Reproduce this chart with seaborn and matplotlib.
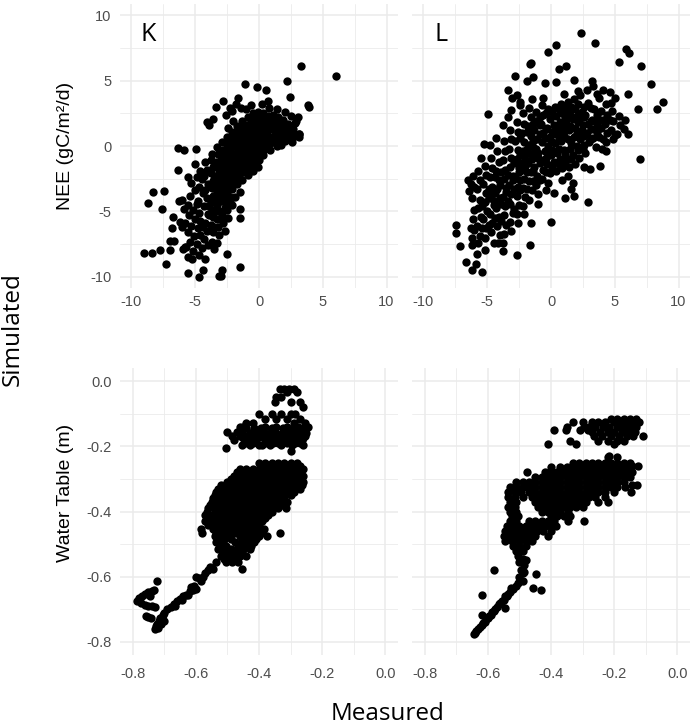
import matplotlib
matplotlib.use("Agg")
import matplotlib.pyplot as plt
from matplotlib.ticker import MultipleLocator
import seaborn as sns
import pandas as pd

# ---------------- data (measured, simulated) ----------------
K_NEE_CORE = [
    (-4.6, -1.9), (-4.5, -2.5), (-4.7, -3.1), (-4.4, -3.6), (-4.8, -4.2),
    (-4.2, -1.2), (-4.1, -1.8), (-4.3, -2.3), (-4.0, -2.9), (-4.2, -3.4), (-4.1, -4.0),
    (-4.3, -4.6), (-4.0, -5.2), (-4.2, -5.9), (-4.1, -6.5), (-4.3, -7.1), (-4.0, -7.6),
    (-3.7, -0.6), (-3.8, -1.1), (-3.6, -1.6), (-3.8, -2.1), (-3.6, -2.7), (-3.7, -3.2),
    (-3.6, -3.8), (-3.8, -4.3), (-3.7, -4.9), (-3.6, -5.4), (-3.8, -6.0), (-3.6, -6.6),
    (-3.7, -7.3), (-3.5, -7.9),
    (-3.3, -0.1), (-3.2, -0.6), (-3.4, -1.2), (-3.2, -1.7), (-3.3, -2.3), (-3.1, -2.8),
    (-3.3, -3.4), (-3.2, -3.9), (-3.3, -4.5), (-3.1, -5.0), (-3.3, -5.6), (-3.2, -6.2),
    (-3.1, -6.8), (-3.3, -7.4),
    (-2.9, 0.3), (-2.8, -0.3), (-3.0, -0.8), (-2.8, -1.4), (-2.9, -1.9), (-2.7, -2.5),
    (-2.9, -3.0), (-2.8, -3.6), (-2.9, -4.1), (-2.7, -4.7), (-2.9, -5.3), (-2.8, -5.9),
    (-2.7, -6.5),
    (-2.5, 0.7), (-2.4, 0.1), (-2.6, -0.4), (-2.4, -1.0), (-2.5, -1.5), (-2.3, -2.1),
    (-2.5, -2.6), (-2.4, -3.2), (-2.5, -3.7), (-2.3, -4.3), (-2.5, -4.9), (-2.4, -5.5),
    (-2.1, 1.1), (-2.0, 0.5), (-2.2, 0.0), (-2.0, -0.6), (-2.1, -1.1), (-1.9, -1.7),
    (-2.1, -2.2), (-2.0, -2.8), (-2.1, -3.3), (-1.9, -3.9), (-2.1, -4.5),
    (-1.7, 1.5), (-1.6, 0.9), (-1.8, 0.4), (-1.6, -0.2), (-1.7, -0.7), (-1.5, -1.3),
    (-1.7, -1.8), (-1.6, -2.4), (-1.7, -2.9), (-1.5, -3.5),
    (-1.3, 1.9), (-1.2, 1.3), (-1.4, 0.8), (-1.2, 0.2), (-1.3, -0.3), (-1.1, -0.9),
    (-1.3, -1.4), (-1.2, -2.0), (-1.3, -2.6),
    (-0.9, 2.2), (-0.8, 1.6), (-1.0, 1.1), (-0.8, 0.5), (-0.9, 0.0), (-0.7, -0.6),
    (-0.9, -1.1), (-0.8, -1.7), (-0.9, -2.2),
    (-0.5, 2.5), (-0.4, 1.9), (-0.6, 1.4), (-0.4, 0.8), (-0.5, 0.3), (-0.3, -0.3),
    (-0.5, -0.8), (-0.4, -1.4), (-0.5, -1.9),
    (-0.1, 2.6), (0.0, 2.1), (-0.2, 1.6), (0.0, 1.0), (-0.1, 0.5), (0.1, 0.0),
    (-0.1, -0.5), (0.0, -1.1), (-0.1, -1.6),
    (0.3, 2.5), (0.4, 1.9), (0.2, 1.4), (0.4, 0.9), (0.3, 0.3), (0.5, -0.2), (0.3, -0.7),
    (0.7, 2.3), (0.8, 1.8), (0.6, 1.3), (0.8, 0.7), (0.7, 0.2), (0.9, -0.3),
    (1.1, 2.4), (1.2, 1.8), (1.0, 1.3), (1.2, 0.8), (1.1, 0.3),
    (1.5, 2.2), (1.6, 1.6), (1.4, 1.1), (1.6, 0.6), (1.5, 0.2),
    (1.9, 2.0), (2.0, 1.4), (1.8, 0.9), (2.0, 0.4),
    (2.3, 1.7), (2.4, 1.1), (2.2, 0.6),
    (2.7, 1.3), (2.8, 0.8), (2.6, 0.3),
    (3.1, 0.9),
]
K_NEE_FILL = [
    (-2.7, -0.5), (-2.3, -0.1), (-1.9, 0.3), (-1.5, 0.6), (-1.1, 1.0), (-0.7, 1.3),
    (-0.3, 1.6), (0.1, 1.8), (0.5, 1.6), (0.9, 1.5), (1.3, 1.4), (1.7, 1.2), (2.1, 1.1),
    (2.5, 0.8), (-2.7, -1.6), (-2.3, -1.3), (-1.9, -0.9), (-1.5, -0.5), (-1.1, -0.1),
    (-0.7, 0.2), (-0.3, 0.5), (0.1, 0.7), (0.5, 0.4), (0.9, 0.2), (1.3, 0.5), (1.7, 0.1),
    (-3.1, -2.0), (-2.7, -3.3), (-2.3, -2.9), (-1.9, -2.5), (-1.5, -2.1), (-1.1, -1.7),
    (-0.7, -1.3), (-0.3, -0.9), (0.1, -0.4), (-3.5, -2.5), (-3.1, -3.6), (-2.7, -4.2),
    (-3.5, -4.3), (-2.3, -3.9),
    (-3.0, -1.1), (-2.6, -0.8), (-2.2, -0.5), (-1.8, -0.1), (-1.4, 0.2), (-1.0, 0.6),
    (-0.6, 0.9), (-0.2, 1.2), (0.2, 1.1), (0.6, 0.9), (1.0, 1.8), (1.4, 1.7), (1.8, 1.6),
    (2.2, 1.4), (2.6, 1.0), (-3.0, -2.4), (-2.6, -2.0), (-2.2, -1.7), (-1.8, -1.3),
    (-1.4, -1.0), (-1.0, -0.6), (-0.6, -0.2), (-0.2, 0.1), (0.2, -0.1), (0.6, -0.1),
    (1.0, 0.5), (1.4, 0.0), (-3.4, -2.9), (-3.0, -3.2), (-2.6, -3.0), (-2.2, -2.6),
    (-1.8, -2.1), (-1.4, -1.8), (-1.0, -1.3), (-0.6, -1.0), (-0.2, -0.6),
    (-0.2, 2.3), (0.2, 2.2), (0.6, 2.0), (1.0, 2.1), (-0.6, 2.0), (-1.0, 1.6), (-1.4, 1.4),
    (-1.8, 1.0), (-2.2, 0.6), (-2.6, 0.2),
    (-3.5, -3.8), (-3.0, -4.2), (-2.6, -4.5), (-3.4, -5.0), (-3.0, -5.6), (-3.5, -6.2),
    (-3.9, -5.3), (-3.9, -4.6),
]
K_NEE_LOWER = [
    (-5.6, -4.5), (-5.2, -4.9), (-4.9, -4.4), (-5.5, -5.3), (-5.0, -5.6), (-4.7, -5.1),
    (-5.8, -5.9), (-5.3, -6.1), (-4.8, -6.3), (-5.6, -6.6), (-5.1, -6.9), (-4.6, -6.8),
    (-5.4, -7.3), (-4.9, -7.5), (-4.5, -7.8), (-5.7, -7.7), (-5.2, -8.0), (-4.7, -8.3),
    (-6.0, -6.2), (-6.2, -5.8), (-5.9, -4.8), (-4.6, -5.7), (-4.4, -6.2),
    (-5.3, -2.8), (-5.0, -3.4), (-5.4, -3.8), (-4.9, -2.4),
]
K_NEE_SCATTER = [
    (3.31, 6.1), (6.05, 5.34), (-1.13, 4.73), (-0.14, 4.47), (0.53, 4.27), (2.2, 4.98),
    (2.46, 3.78), (0.74, 3.45), (-2.83, 3.45), (-1.66, 3.7), (-3.35, 3.0), (-2.3, 2.94),
    (-3.6, 2.05), (-4.05, 1.85), (-3.95, 1.6), (3.83, 3.1), (3.96, 3.0), (3.05, 2.18),
    (2.84, 1.72), (3.1, 0.95), (3.1, 0.65), (-6.38, -0.17), (-5.92, -0.32), (-4.95, -0.24),
    (-5.03, -1.39), (-6.33, -1.8), (-5.6, -2.36), (-8.29, -3.53), (-8.73, -4.34),
    (-7.43, -3.43), (-7.64, -4.8), (-6.75, -5.44), (-6.86, -6.25), (-6.96, -7.25),
    (-6.7, -7.25), (-6.96, -7.96), (-9.0, -8.17), (-8.42, -8.17), (-7.75, -7.96),
    (-7.33, -8.98), (-5.95, -7.86), (-5.55, -9.7), (-4.69, -10.0), (-4.38, -9.44),
    (-4.25, -8.65), (-3.15, -9.97), (-2.98, -9.97), (-2.9, -9.44), (-2.48, -8.27),
    (-1.5, -9.24), (-1.5, -4.85), (-1.5, -5.52), (-6.28, -4.24), (-6.07, -4.09),
    (-5.55, -8.47), (-5.24, -8.6), (-5.81, -7.71),
    (-2.6, 2.4), (-2.1, 2.7), (-1.8, 3.2), (-1.4, 2.9), (-1.0, 2.8), (-0.6, 3.1),
    (0.2, 3.2), (0.8, 2.9), (1.4, 2.8), (2.0, 2.6), (2.5, 2.3), (2.9, 1.9),
    (-2.0, 1.9), (-2.4, 1.4),
]

L_NEE_CORE = [
    (-6.1, -2.3), (-6.0, -3.1), (-6.2, -4.0), (-6.0, -4.9), (-6.1, -5.6), (-6.2, -7.0),
    (-5.7, -1.9), (-5.6, -2.6), (-5.8, -3.3), (-5.6, -4.1), (-5.7, -4.7), (-5.5, -5.4),
    (-5.8, -6.1), (-5.6, -6.9), (-5.7, -7.4),
    (-5.2, -1.5), (-5.1, -2.2), (-5.3, -2.9), (-5.1, -3.6), (-5.2, -4.3), (-5.0, -5.0),
    (-5.3, -5.6), (-5.1, -6.3), (-5.2, -7.0),
    (-4.7, -0.9), (-4.6, -1.7), (-4.8, -2.4), (-4.6, -3.1), (-4.7, -3.8), (-4.5, -4.5),
    (-4.8, -5.2), (-4.6, -5.9), (-4.7, -6.6),
    (-4.2, -0.4), (-4.1, -1.2), (-4.3, -1.9), (-4.1, -2.6), (-4.2, -3.3), (-4.0, -4.0),
    (-4.3, -4.7), (-4.1, -5.4), (-4.2, -6.1), (-4.0, -6.8),
    (-3.7, 0.4), (-3.6, -0.4), (-3.8, -1.1), (-3.6, -1.8), (-3.7, -2.5), (-3.5, -3.2),
    (-3.8, -3.9), (-3.6, -4.6), (-3.7, -5.3), (-3.5, -6.0), (-3.7, -6.7),
    (-3.2, 1.2), (-3.1, 0.5), (-3.3, -0.2), (-3.1, -0.9), (-3.2, -1.6), (-3.0, -2.3),
    (-3.3, -3.0), (-3.1, -3.7), (-3.2, -4.4), (-3.0, -5.1), (-3.2, -5.8), (-3.1, -6.5),
    (-2.7, 1.8), (-2.6, 1.1), (-2.8, 0.4), (-2.6, -0.3), (-2.7, -1.0), (-2.5, -1.7),
    (-2.8, -2.4), (-2.6, -3.1), (-2.7, -3.8), (-2.5, -4.5), (-2.7, -5.2), (-2.6, -5.9),
    (-2.2, 2.5), (-2.1, 1.7), (-2.3, 1.0), (-2.1, 0.3), (-2.2, -0.4), (-2.0, -1.1),
    (-2.3, -1.8), (-2.1, -2.5), (-2.2, -3.2), (-2.0, -3.9), (-2.2, -4.6), (-2.1, -5.2),
    (-1.7, 2.9), (-1.6, 2.2), (-1.8, 1.5), (-1.6, 0.8), (-1.7, 0.1), (-1.5, -0.6),
    (-1.8, -1.3), (-1.6, -2.0), (-1.7, -2.7), (-1.5, -3.4), (-1.7, -4.1),
    (-1.2, 2.6), (-1.1, 1.9), (-1.3, 1.2), (-1.1, 0.5), (-1.2, -0.2), (-1.0, -0.9),
    (-1.3, -1.6), (-1.1, -2.3), (-1.2, -3.0), (-1.0, -3.7),
    (-0.7, 3.1), (-0.6, 2.4), (-0.8, 1.7), (-0.6, 1.0), (-0.7, 0.3), (-0.5, -0.4),
    (-0.8, -1.1), (-0.6, -1.8), (-0.7, -2.5),
    (-0.2, 2.8), (-0.1, 2.1), (-0.3, 1.4), (-0.1, 0.7), (-0.2, 0.0), (0.0, -0.7),
    (-0.3, -1.4), (-0.1, -2.1), (-0.2, -2.8),
    (0.3, 3.0), (0.4, 2.3), (0.2, 1.6), (0.4, 0.9), (0.3, 0.2), (0.5, -0.5), (0.2, -1.2),
    (0.4, -1.9),
    (0.8, 3.2), (0.9, 2.5), (0.7, 1.8), (0.9, 1.1), (0.8, 0.4), (1.0, -0.3), (0.7, -1.0),
    (0.9, -1.7),
    (1.3, 3.4), (1.4, 2.6), (1.2, 1.9), (1.4, 1.2), (1.3, 0.5), (1.5, -0.2), (1.2, -0.9),
    (1.4, -1.6), (1.3, -2.3),
    (1.8, 3.6), (1.9, 2.8), (1.7, 2.1), (1.9, 1.4), (1.8, 0.7), (2.0, 0.0), (1.7, -0.7),
    (1.9, -1.4),
    (2.3, 3.9), (2.4, 2.6), (2.2, 1.9), (2.4, 1.2), (2.3, 0.5), (2.5, -0.2), (2.2, -0.9),
    (2.8, 4.3), (2.9, 3.3), (2.7, 2.4), (2.9, 1.7), (2.8, 1.0), (3.0, 0.3), (2.7, -0.5),
    (3.3, 4.6), (3.4, 2.8), (3.2, 2.0), (3.4, 1.3), (3.3, 0.6), (3.5, -0.1),
    (3.8, 3.7), (3.9, 2.7), (3.7, 2.1), (3.9, 1.4), (3.8, 0.7), (4.0, -0.2),
    (4.3, 3.2), (4.4, 2.4), (4.2, 1.7), (4.4, 1.0), (4.3, 0.3),
    (4.8, 2.7), (4.9, 1.9), (4.7, 1.2), (4.9, 0.5),
    (5.3, 2.3), (5.4, 1.6), (5.2, 0.9),
    (5.8, 2.0), (5.7, 1.3),
    (0.5, 1.3), (1.0, 0.8), (1.5, 1.5), (2.0, 1.0), (2.5, 1.6), (0.0, 0.4), (-0.5, 0.6),
    (1.1, 2.2), (1.6, 0.2), (2.1, 2.4), (0.6, 0.5), (1.2, 1.6), (-1.0, -0.5), (-1.5, -1.0),
    (-2.0, -1.5), (-2.5, -2.0), (-3.0, -2.6), (-2.0, -0.7), (-1.4, 0.4), (-0.9, 1.6),
    (3.1, 1.3), (3.6, 1.7), (2.6, 0.8), (-3.5, -3.5), (-2.4, -3.4), (-4.0, -3.0),
    (-4.5, -4.2), (-3.4, -4.2), (-2.9, -4.8), (-3.9, -5.7),
]
L_NEE_FILL = [
    (-2.4, 0.6), (-1.9, 1.1), (-1.4, 1.7), (-0.9, 2.2), (-0.4, 2.5), (0.1, 2.6), (0.6, 2.8),
    (1.1, 2.9), (1.6, 3.0), (2.1, 3.2), (2.6, 3.0), (3.1, 2.9), (3.6, 2.4),
    (-2.4, -0.7), (-1.9, -0.2), (-1.4, -0.1), (-0.9, 0.9), (-0.4, 1.3), (0.1, 1.1),
    (0.6, 1.5), (1.1, 1.3), (1.6, 2.3), (2.1, 1.8), (2.6, 2.2), (3.1, 1.9), (3.6, 1.1),
    (4.1, 2.0), (4.6, 2.0),
    (-2.9, -1.3), (-2.4, -1.3), (-1.9, -2.0), (-1.4, -1.9), (-0.9, -1.3), (-0.4, -0.9),
    (0.1, -0.3), (0.6, -0.2), (1.1, -0.6), (1.6, -1.0), (2.1, -0.3), (2.6, 0.1), (3.1, 0.5),
    (4.1, 0.5),
    (-3.4, -2.2), (-2.9, -3.3), (-2.4, -2.6), (-1.9, -3.3), (-1.4, -2.7), (-0.9, -2.6),
    (-0.4, -2.0), (0.1, -1.6), (0.6, -1.4), (1.1, -1.3),
    (-4.4, -2.4), (-3.9, -2.0), (-4.9, -3.3), (-4.4, -3.6), (-5.4, -4.6), (-4.9, -4.0),
    (-3.9, -4.4), (-4.4, -5.5), (-5.4, -6.3), (-4.9, -6.0),
]
L_NEE_SCATTER = [
    (2.37, 8.6), (3.48, 7.88), (0.39, 7.68), (-0.26, 7.2), (-1.6, 6.35), (-1.68, 6.25),
    (0.59, 5.92), (1.21, 6.13), (-2.79, 5.33), (-1.42, 5.29), (-1.86, 4.98), (-0.46, 4.83),
    (0.36, 4.88), (1.78, 5.08), (3.23, 4.93), (5.88, 7.4), (6.12, 7.07), (5.32, 6.41),
    (7.07, 6.13), (7.87, 4.73), (8.77, 3.38), (8.31, 2.79), (6.83, 2.79), (6.0, 4.01),
    (6.96, -0.98), (6.0, 0.88), (4.99, 0.83), (4.32, -0.39), (3.85, -1.51), (3.08, -1.74),
    (2.9, -4.29), (1.81, -3.81), (1.55, -3.27), (1.08, -3.99), (0.21, -3.58), (0.0, -5.77),
    (-1.63, -7.53), (-2.63, -8.32), (-4.96, 2.48), (-5.24, 0.19), (-3.35, 4.27),
    (-3.02, 3.68), (-2.63, 3.89), (-3.1, 2.74), (-2.45, 3.38), (-6.53, -2.61),
    (-6.4, -3.45), (-7.48, -6.0), (-7.48, -6.61), (-7.1, -7.63), (-6.66, -8.85),
    (-6.19, -9.44), (-5.86, -8.98), (-5.42, -9.62), (-5.78, -8.27), (-6.27, -6.25),
    (-6.01, -6.4), (-6.19, -7.58), (-5.16, -7.91), (-4.49, -7.4), (-4.13, -7.4),
    (-3.74, -7.38), (-3.74, -8.01), (-1.6, -5.85),
    (4.1, 4.3), (4.6, 4.1), (5.0, 3.7), (4.7, 3.3), (3.6, 4.0), (2.1, 4.2), (1.0, 4.0),
    (-0.6, 3.7), (-1.5, 3.6), (-2.4, 3.1), (-3.4, 2.2), (-3.8, 1.6), (-4.3, 0.6),
    (-4.8, 0.1), (-5.5, -0.9), (-6.3, -2.9), (-1.0, -4.4), (-0.4, -3.4), (0.9, -2.6),
    (1.7, -2.8), (2.6, -1.6),
]

# water table, K: rows given as (simulated, [measured ...])
K_WT_ROWS = [
    (-0.025, [-0.335, -0.32, -0.305, -0.29]),
    (-0.035, [-0.28, -0.31]),
    (-0.05, [-0.345, -0.33]),
    (-0.065, [-0.35, -0.30, -0.27]),
    (-0.08, [-0.26]),
    (-0.10, [-0.40, -0.36, -0.33, -0.30, -0.285]),
    (-0.115, [-0.345, -0.31, -0.27, -0.38]),
    (-0.128, [-0.42, -0.44, -0.29, -0.255]),
    (-0.14, [-0.45, -0.38, -0.345, -0.31, -0.275, -0.245, -0.46]),
    (-0.145, [-0.44, -0.415, -0.395, -0.36, -0.325, -0.29, -0.26]),
    (-0.155, [-0.47, -0.42, -0.40, -0.36, -0.325, -0.29, -0.26, -0.50]),
    (-0.16, [-0.455, -0.43, -0.41, -0.385, -0.365, -0.345, -0.315, -0.30, -0.28, -0.265, -0.25]),
    (-0.168, [-0.46, -0.44, -0.415, -0.395, -0.375, -0.355, -0.34, -0.32, -0.305, -0.285, -0.27, -0.255, -0.485]),
    (-0.175, [-0.45, -0.425, -0.405, -0.385, -0.36, -0.33, -0.31, -0.29, -0.275, -0.26]),
    (-0.182, [-0.435, -0.41, -0.37, -0.35, -0.335, -0.315, -0.30, -0.28, -0.265, -0.48]),
    (-0.19, [-0.445, -0.42, -0.38, -0.355, -0.34, -0.31, -0.285, -0.27]),
    (-0.195, [-0.455, -0.43, -0.39, -0.365, -0.33, -0.295, -0.40, -0.26]),
    (-0.205, [-0.505]),
    (-0.215, [-0.30]),
    (-0.25, [-0.40, -0.38, -0.36, -0.34, -0.32, -0.30, -0.28]),
    (-0.26, [-0.39, -0.37, -0.35, -0.33, -0.31, -0.29, -0.27]),
    (-0.27, [-0.46, -0.44, -0.42, -0.40, -0.38, -0.36, -0.34, -0.32, -0.30, -0.28, -0.26]),
    (-0.28, [-0.47, -0.45, -0.43, -0.41, -0.39, -0.37, -0.35, -0.33, -0.31, -0.29, -0.27]),
    (-0.29, [-0.48, -0.46, -0.44, -0.42, -0.40, -0.38, -0.36, -0.34, -0.32, -0.30, -0.28, -0.26]),
    (-0.30, [-0.49, -0.47, -0.45, -0.43, -0.41, -0.39, -0.37, -0.35, -0.33, -0.31, -0.29, -0.27]),
    (-0.31, [-0.50, -0.48, -0.46, -0.44, -0.42, -0.40, -0.38, -0.36, -0.34, -0.32, -0.30, -0.28, -0.26]),
    (-0.32, [-0.52, -0.50, -0.48, -0.46, -0.44, -0.42, -0.40, -0.38, -0.36, -0.34, -0.32, -0.30, -0.28, -0.265]),
    (-0.33, [-0.53, -0.51, -0.49, -0.47, -0.45, -0.43, -0.41, -0.39, -0.37, -0.35, -0.33, -0.31, -0.29, -0.27]),
    (-0.34, [-0.535, -0.51, -0.49, -0.47, -0.45, -0.43, -0.41, -0.39, -0.37, -0.35, -0.33, -0.31, -0.29]),
    (-0.35, [-0.54, -0.52, -0.50, -0.48, -0.46, -0.44, -0.42, -0.40, -0.38, -0.36, -0.34, -0.32, -0.30]),
    (-0.36, [-0.545, -0.52, -0.50, -0.48, -0.46, -0.44, -0.42, -0.40, -0.38, -0.36, -0.34, -0.32]),
    (-0.37, [-0.55, -0.53, -0.51, -0.49, -0.47, -0.45, -0.43, -0.41, -0.39, -0.37, -0.35, -0.33, -0.31]),
    (-0.38, [-0.555, -0.53, -0.51, -0.49, -0.47, -0.45, -0.43, -0.41, -0.39, -0.37, -0.35, -0.33]),
    (-0.39, [-0.56, -0.54, -0.52, -0.50, -0.48, -0.46, -0.44, -0.42, -0.40, -0.38, -0.36, -0.34, -0.315]),
    (-0.40, [-0.565, -0.54, -0.52, -0.50, -0.48, -0.46, -0.44, -0.42, -0.40, -0.38, -0.36]),
    (-0.41, [-0.57, -0.55, -0.53, -0.51, -0.49, -0.47, -0.45, -0.43, -0.41, -0.39, -0.37]),
    (-0.42, [-0.56, -0.54, -0.52, -0.50, -0.48, -0.46, -0.44, -0.42, -0.40, -0.38]),
    (-0.43, [-0.57, -0.55, -0.53, -0.51, -0.49, -0.47, -0.45, -0.43, -0.41, -0.39]),
    (-0.44, [-0.56, -0.54, -0.52, -0.50, -0.48, -0.46, -0.44, -0.42, -0.40]),
    (-0.455, [-0.545, -0.525, -0.505, -0.485, -0.465, -0.445, -0.425, -0.405, -0.385, -0.583]),
    (-0.465, [-0.535, -0.515, -0.495, -0.475, -0.455, -0.435, -0.415, -0.395, -0.332, -0.58]),
    (-0.475, [-0.54, -0.52, -0.50, -0.46, -0.44, -0.42, -0.40, -0.375]),
    (-0.485, [-0.53, -0.51, -0.49, -0.45, -0.43, -0.41]),
    (-0.495, [-0.535, -0.515, -0.475, -0.455, -0.435, -0.415]),
    (-0.505, [-0.525, -0.505, -0.465, -0.445, -0.425]),
    (-0.515, [-0.53, -0.51, -0.49, -0.47, -0.45, -0.43]),
    (-0.525, [-0.515, -0.495, -0.475, -0.455]),
    (-0.535, [-0.52, -0.50, -0.48, -0.46, -0.44]),
    (-0.545, [-0.51, -0.49, -0.47]),
    (-0.555, [-0.536, -0.505, -0.485, -0.465]),
    (-0.575, [-0.455, -0.546]),
]
K_WT_TAIL = [
    (-0.555, -0.57), (-0.562, -0.58), (-0.57, -0.59), (-0.578, -0.60), (-0.59, -0.605),
    (-0.60, -0.60), (-0.585, -0.612), (-0.60, -0.637), (-0.61, -0.64), (-0.62, -0.645),
    (-0.63, -0.655), (-0.64, -0.66), (-0.65, -0.667), (-0.66, -0.675), (-0.67, -0.685),
    (-0.68, -0.692), (-0.69, -0.70), (-0.70, -0.71), (-0.705, -0.718), (-0.712, -0.727),
    (-0.718, -0.737), (-0.722, -0.745), (-0.726, -0.752), (-0.73, -0.759), (-0.72, -0.756),
    (-0.71, -0.745), (-0.70, -0.735), (-0.665, -0.69), (-0.645, -0.67), (-0.625, -0.655),
    (-0.605, -0.628), (-0.615, -0.632),
    (-0.724, -0.614), (-0.731, -0.642), (-0.74, -0.645), (-0.75, -0.648), (-0.76, -0.652),
    (-0.77, -0.658), (-0.78, -0.665), (-0.785, -0.675), (-0.775, -0.68), (-0.745, -0.658),
    (-0.762, -0.686), (-0.75, -0.69), (-0.738, -0.69), (-0.728, -0.694), (-0.75, -0.724),
    (-0.742, -0.728), (-0.757, -0.72),
]

# water table, L: rows given as (simulated, [measured ...])
L_WT_ROWS = [
    (-0.115, [-0.21, -0.19, -0.17, -0.15, -0.13]),
    (-0.125, [-0.27, -0.25, -0.23, -0.20, -0.18, -0.16, -0.14, -0.12, -0.33, -0.30]),
    (-0.14, [-0.28, -0.26, -0.235, -0.215, -0.19, -0.17, -0.15, -0.13, -0.35, -0.295]),
    (-0.15, [-0.392, -0.354, -0.307, -0.282]),
    (-0.155, [-0.27, -0.245, -0.22, -0.20, -0.175, -0.155, -0.135]),
    (-0.17, [-0.265, -0.24, -0.21, -0.185, -0.16, -0.14, -0.108]),
    (-0.185, [-0.25, -0.22, -0.19, -0.17, -0.34]),
    (-0.192, [-0.41, -0.322, -0.20]),
    (-0.232, [-0.22, -0.19]),
    (-0.25, [-0.33, -0.31, -0.29, -0.27, -0.25, -0.23, -0.21, -0.19, -0.17, -0.15]),
    (-0.262, [-0.143, -0.124]),
    (-0.265, [-0.40, -0.37, -0.35, -0.33, -0.31, -0.29, -0.27, -0.25, -0.23, -0.21, -0.19, -0.17, -0.15]),
    (-0.278, [-0.476, -0.42, -0.40, -0.38, -0.36, -0.34, -0.32, -0.30, -0.28, -0.26, -0.24, -0.22, -0.20, -0.18, -0.16, -0.143]),
    (-0.295, [-0.45, -0.43, -0.41, -0.39, -0.37, -0.35, -0.33, -0.31, -0.29, -0.27, -0.25, -0.23, -0.21, -0.19, -0.17, -0.15]),
    (-0.31, [-0.51, -0.49, -0.47, -0.45, -0.43, -0.41, -0.39, -0.37, -0.35, -0.33, -0.31, -0.29, -0.27, -0.25, -0.23, -0.21, -0.19, -0.17]),
    (-0.319, [-0.129, -0.145]),
    (-0.325, [-0.53, -0.51, -0.49, -0.47, -0.45, -0.43, -0.41, -0.39, -0.37, -0.35, -0.33, -0.31, -0.29, -0.27, -0.25, -0.23, -0.21, -0.19, -0.165]),
    (-0.34, [-0.535, -0.515, -0.495, -0.47, -0.45, -0.43, -0.41, -0.39, -0.37, -0.35, -0.33, -0.31, -0.29, -0.27, -0.25, -0.23, -0.20, -0.148]),
    (-0.355, [-0.535, -0.515, -0.49, -0.46, -0.44, -0.42, -0.40, -0.38, -0.36, -0.34, -0.32, -0.30, -0.28, -0.26, -0.23]),
    (-0.37, [-0.53, -0.51, -0.45, -0.43, -0.41, -0.39, -0.37, -0.35, -0.33, -0.31, -0.29, -0.25, -0.22]),
    (-0.385, [-0.535, -0.515, -0.44, -0.42, -0.40, -0.38, -0.36, -0.34, -0.32, -0.30]),
    (-0.40, [-0.53, -0.51, -0.43, -0.41, -0.39, -0.37, -0.345]),
    (-0.415, [-0.525, -0.505, -0.40, -0.38, -0.36, -0.34]),
    (-0.428, [-0.345, -0.297]),
    (-0.43, [-0.53, -0.51, -0.47, -0.45, -0.43, -0.41, -0.39]),
    (-0.445, [-0.54, -0.52, -0.50, -0.48, -0.46, -0.44, -0.42, -0.40, -0.385]),
    (-0.46, [-0.545, -0.525, -0.505, -0.485, -0.465, -0.445, -0.425, -0.40]),
    (-0.475, [-0.55, -0.53, -0.51, -0.49, -0.47, -0.45, -0.41]),
    (-0.49, [-0.545, -0.525, -0.50, -0.48, -0.46]),
    (-0.505, [-0.52, -0.50, -0.48]),
]
L_WT_TAIL = [
    (-0.51, -0.52), (-0.49, -0.52), (-0.505, -0.535), (-0.49, -0.545), (-0.50, -0.555),
    (-0.485, -0.565), (-0.495, -0.578), (-0.49, -0.59), (-0.50, -0.602), (-0.49, -0.612),
    (-0.505, -0.62), (-0.485, -0.585), (-0.48, -0.55), (-0.511, -0.627),
    (-0.52, -0.637), (-0.53, -0.648), (-0.54, -0.659), (-0.55, -0.671), (-0.56, -0.682),
    (-0.57, -0.693), (-0.58, -0.704), (-0.59, -0.716), (-0.60, -0.727), (-0.61, -0.738),
    (-0.62, -0.749), (-0.63, -0.76), (-0.64, -0.772), (-0.643, -0.776),
    (-0.526, -0.636), (-0.536, -0.652), (-0.546, -0.66), (-0.556, -0.674), (-0.566, -0.684),
    (-0.576, -0.698), (-0.586, -0.708), (-0.596, -0.72), (-0.606, -0.731), (-0.616, -0.742),
    (-0.626, -0.753), (-0.636, -0.765),
    (-0.58, -0.578), (-0.449, -0.591), (-0.456, -0.635), (-0.431, -0.642), (-0.62, -0.657),
    (-0.619, -0.718), (-0.545, -0.696), (-0.216, -0.229),
]


def rows_to_pairs(rows):
    return [(m, s) for s, ms in rows for m in ms]


def frame(pairs):
    return pd.DataFrame(pairs, columns=["measured", "simulated"])


k_nee = frame(K_NEE_CORE + K_NEE_FILL + K_NEE_LOWER + K_NEE_SCATTER)
l_nee = frame(L_NEE_CORE + L_NEE_FILL + L_NEE_SCATTER)
k_wt = frame(rows_to_pairs(K_WT_ROWS) + K_WT_TAIL)
l_wt = frame(rows_to_pairs(L_WT_ROWS) + L_WT_TAIL)

# ---------------- styling ----------------
sns.set_theme(style="white")
plt.rcParams['font.family'] = ['Liberation Sans', 'DejaVu Sans']
plt.rcParams['axes.unicode_minus'] = False

W, H = 692, 728
fig = plt.figure(figsize=(W / 100, H / 100), dpi=100)


def axpos(l, t, r, b):
    return [l / W, 1 - b / H, (r - l) / W, (b - t) / H]


ax_k = fig.add_axes(axpos(120, 4, 398, 288))
ax_l = fig.add_axes(axpos(412, 4, 690, 288))
ax_kw = fig.add_axes(axpos(120, 368, 398, 655))
ax_lw = fig.add_axes(axpos(412, 368, 690, 655))

GRID = "#EBEBEB"
TICK = "#4D4D4D"


def fmt1(v, p):
    s = f"{v:.1f}"
    return "0.0" if s == "-0.0" else s


panels = [
    (ax_k, k_nee, "nee", True),
    (ax_l, l_nee, "nee", False),
    (ax_kw, k_wt, "wt", True),
    (ax_lw, l_wt, "wt", False),
]
for ax, df, kind, show_y in panels:
    ax.set_axisbelow(True)
    sns.scatterplot(data=df, x="measured", y="simulated", ax=ax, color="black",
                    s=36, linewidth=0, legend=False, zorder=3)
    if kind == "nee":
        ax.set_xlim(-10.9, 10.9)
        ax.set_ylim(-10.85, 10.85)
        for a in (ax.xaxis, ax.yaxis):
            a.set_major_locator(MultipleLocator(5))
            a.set_minor_locator(MultipleLocator(2.5))
        xpad = 5
    else:
        ax.set_xlim(-0.84, 0.04)
        ax.set_ylim(-0.84, 0.04)
        for a in (ax.xaxis, ax.yaxis):
            a.set_major_locator(MultipleLocator(0.2))
            a.set_minor_locator(MultipleLocator(0.1))
            a.set_major_formatter(plt.FuncFormatter(fmt1))
        xpad = 9
    ax.grid(which="major", color=GRID, linewidth=1.1)
    ax.grid(which="minor", color=GRID, linewidth=0.6)
    for sp in ax.spines.values():
        sp.set_visible(False)
    ax.set_facecolor("white")
    ax.tick_params(which="both", length=0)
    ax.tick_params(axis="x", labelsize=10.5, labelcolor=TICK, pad=xpad)
    ax.tick_params(axis="y", labelsize=10.5, labelcolor=TICK, pad=6, labelleft=show_y)
    ax.set_xlabel("")
    ax.set_ylabel("")

ax_k.text(-8.7, 8.55, "K", ha="center", va="center", fontsize=18,
          family=["Open Sans", "DejaVu Sans"], color="black")
ax_l.text(-8.6, 8.55, "L", ha="center", va="center", fontsize=18,
          family=["Open Sans", "DejaVu Sans"], color="black")

fig.text(66 / W, 1 - 146 / H, "NEE (gC/m²/d)", rotation=90, ha="center", va="center",
         fontsize=14, color="black")
fig.text(66 / W, 1 - 493 / H, "Water Table (m)", rotation=90, ha="center", va="center",
         fontsize=14, color="black")
fig.text(13 / W, 1 - 329 / H, "Simulated", rotation=90, ha="center", va="center",
         fontsize=17.5, family=["Open Sans", "DejaVu Sans"], color="black")
fig.text(388 / W, 1 - 714 / H, "Measured", ha="center", va="center",
         fontsize=17.5, family=["Open Sans", "DejaVu Sans"], color="black")

fig.savefig("out.png", dpi=100, facecolor="white")
